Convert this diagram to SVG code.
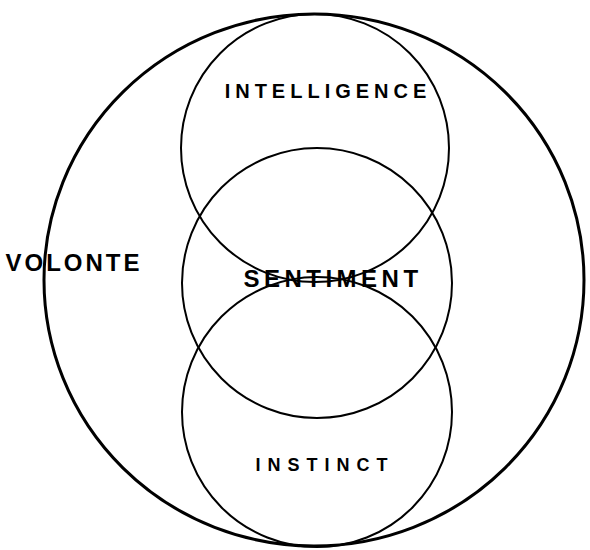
<svg xmlns="http://www.w3.org/2000/svg" width="590" height="550" viewBox="0 0 590 550">
<style>
.c{fill:none;stroke:#000;stroke-width:2}
.o{fill:none;stroke:#000;stroke-width:3}
.t{font-family:"Liberation Sans",Arial,sans-serif;font-weight:bold;fill:#000;text-anchor:middle}
</style>
<rect width="590" height="550" fill="#fff"/>
<g id="volonte">
<ellipse class="o" cx="314" cy="280" rx="270" ry="266"/>
<text class="t" x="74" y="271" font-size="24" letter-spacing="3">VOLONTE</text>
</g>
<g id="intelligence">
<circle class="c" cx="315" cy="148" r="134"/>
<text class="t" x="328" y="98" font-size="20" letter-spacing="5">INTELLIGENCE</text>
</g>
<g id="sentiment">
<circle class="c" cx="317" cy="283" r="135"/>
<text class="t" x="333" y="287" font-size="24" letter-spacing="4.5">SENTIMENT</text>
</g>
<g id="instinct">
<circle class="c" cx="317" cy="412" r="135"/>
<text class="t" x="325" y="471" font-size="18" letter-spacing="7">INSTINCT</text>
</g>
<g id="connectors"></g>
</svg>
